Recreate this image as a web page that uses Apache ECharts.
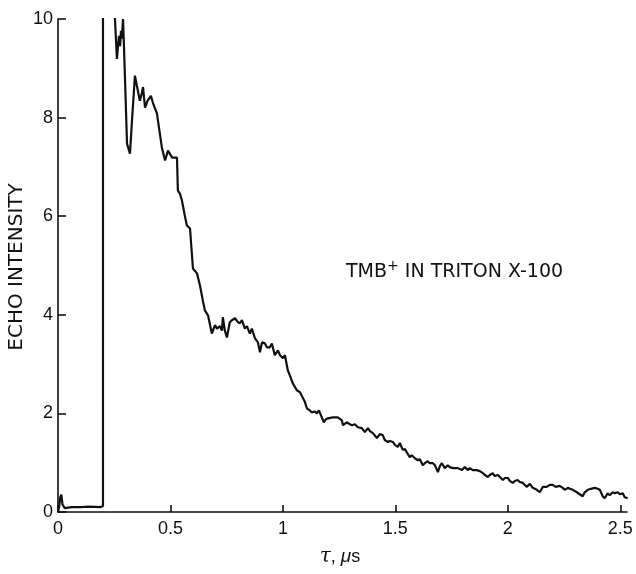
<!DOCTYPE html>
<html>
<head>
<meta charset="utf-8">
<script src="https://cdn.jsdelivr.net/npm/echarts@6/dist/echarts.min.js"></script>
<style>
  html, body { margin: 0; padding: 0; background: #fff; }
  #chart { width: 636px; height: 574px; }
</style>
</head>
<body>
<div id="chart"></div>
<script>
// Spin-echo decay trace: echo intensity versus pulse spacing tau (microseconds)
const tau = [
  0, 0.005, 0.01, 0.015, 0.02, 0.03, 0.06, 0.1, 0.14, 0.19, 0.2, 0.2, 0.25,
  0.253, 0.262, 0.271, 0.276, 0.28, 0.284, 0.289, 0.293, 0.307, 0.32, 0.329, 0.342,
  0.351, 0.364, 0.373, 0.378, 0.387, 0.398, 0.413, 0.422, 0.44, 0.453, 0.462, 0.476,
  0.489, 0.507, 0.529, 0.533, 0.542, 0.551, 0.564, 0.573, 0.587, 0.6, 0.618, 0.631,
  0.644, 0.653, 0.667, 0.684, 0.698, 0.707, 0.72, 0.729, 0.733, 0.742, 0.751, 0.764,
  0.773, 0.787, 0.8, 0.809, 0.818, 0.831, 0.84, 0.853, 0.862, 0.876, 0.889, 0.898,
  0.907, 0.92, 0.929, 0.942, 0.951, 0.964, 0.978, 0.987, 1.0, 1.009, 1.022, 1.031,
  1.044, 1.062, 1.076, 1.089, 1.098, 1.107, 1.12, 1.129, 1.142, 1.151, 1.16, 1.173,
  1.182, 1.191, 1.2, 1.222, 1.244, 1.262, 1.267, 1.284, 1.298, 1.307, 1.32, 1.333,
  1.351, 1.364, 1.378, 1.387, 1.4, 1.418, 1.431, 1.444, 1.453, 1.467, 1.476, 1.489,
  1.498, 1.511, 1.52, 1.533, 1.542, 1.551, 1.564, 1.573, 1.587, 1.6, 1.609, 1.622,
  1.631, 1.644, 1.653, 1.667, 1.676, 1.689, 1.698, 1.707, 1.72, 1.733, 1.742, 1.756,
  1.764, 1.778, 1.796, 1.809, 1.822, 1.831, 1.844, 1.862, 1.876, 1.889, 1.898, 1.911,
  1.92, 1.933, 1.942, 1.956, 1.964, 1.978, 1.987, 2.0, 2.009, 2.022, 2.031, 2.044,
  2.053, 2.067, 2.084, 2.098, 2.111, 2.129, 2.142, 2.156, 2.173, 2.187, 2.2, 2.213,
  2.231, 2.244, 2.253, 2.267, 2.276, 2.289, 2.307, 2.32, 2.333, 2.342, 2.356, 2.369,
  2.387, 2.4, 2.409, 2.422, 2.431, 2.444, 2.453, 2.467, 2.476, 2.489, 2.498, 2.511,
  2.52, 2.533
];
const intensity = [
  0, 0.1, 0.3, 0.35, 0.15, 0.08, 0.1, 0.1, 0.11, 0.1, 0.12, 13, 13,
  10.02, 9.19, 9.66, 9.45, 9.76, 9.6, 10.0, 9.49, 7.47, 7.27, 7.94, 8.85,
  8.64, 8.34, 8.5, 8.62, 8.2, 8.34, 8.44, 8.3, 8.08, 7.67, 7.39, 7.13,
  7.33, 7.19, 7.19, 6.52, 6.46, 6.32, 6.01, 5.81, 5.75, 4.94, 4.84, 4.6,
  4.29, 4.09, 3.99, 3.62, 3.79, 3.72, 3.77, 3.68, 3.95, 3.68, 3.54, 3.85,
  3.89, 3.93, 3.85, 3.83, 3.89, 3.72, 3.77, 3.62, 3.72, 3.52, 3.44, 3.24,
  3.44, 3.42, 3.34, 3.34, 3.42, 3.18, 3.28, 3.18, 3.12, 3.18, 2.87, 2.77,
  2.61, 2.47, 2.43, 2.31, 2.23, 2.1, 2.06, 2.02, 2.04, 2.0, 2.06, 1.92,
  1.82, 1.88, 1.9, 1.92, 1.92, 1.86, 1.76, 1.82, 1.78, 1.76, 1.78, 1.72,
  1.7, 1.62, 1.7, 1.64, 1.6, 1.5, 1.58, 1.56, 1.46, 1.42, 1.44, 1.42,
  1.36, 1.32, 1.4, 1.26, 1.28, 1.21, 1.11, 1.15, 1.09, 1.05, 1.07, 0.95,
  0.99, 1.03, 0.99, 0.99, 0.95, 0.81, 0.93, 0.99, 0.89, 0.95, 0.91, 0.89,
  0.93, 0.89, 0.85, 0.91, 0.85, 0.89, 0.85, 0.85, 0.83, 0.79, 0.75, 0.71,
  0.75, 0.79, 0.73, 0.75, 0.71, 0.65, 0.69, 0.69, 0.63, 0.59, 0.63, 0.65,
  0.61, 0.59, 0.51, 0.57, 0.49, 0.45, 0.4, 0.51, 0.51, 0.55, 0.55, 0.51,
  0.53, 0.49, 0.45, 0.49, 0.47, 0.45, 0.4, 0.36, 0.32, 0.4, 0.45, 0.47,
  0.49, 0.47, 0.45, 0.32, 0.28, 0.38, 0.34, 0.4, 0.38, 0.4, 0.36, 0.38,
  0.3, 0.28
];
const xTicks = [0, 0.5, 1, 1.5, 2, 2.5];
const yTicks = [0, 2, 4, 6, 8, 10];

const FONT = '"Liberation Sans", "DejaVu Sans", sans-serif';
const TITLE_FONT = '"DejaVu Sans", "Liberation Sans", sans-serif';
const INK = '#111';

const chart = echarts.init(document.getElementById('chart'), null, { renderer: 'canvas' });

chart.setOption({
  animation: false,
  backgroundColor: '#fff',
  grid: { left: 58, right: 9, top: 19, bottom: 62, containLabel: false },
  xAxis: {
    type: 'value',
    min: 0,
    max: 2.53,
    splitLine: { show: false },
    axisLine: { show: true, lineStyle: { color: INK, width: 1.6 } },
    axisTick: {
      show: true, inside: true, length: 7,
      customValues: xTicks,
      lineStyle: { color: INK, width: 1.6 }
    },
    axisLabel: {
      customValues: xTicks,
      color: INK, fontFamily: FONT, fontSize: 18, margin: 8
    }
  },
  yAxis: {
    type: 'value',
    min: 0,
    max: 10,
    interval: 2,
    splitLine: { show: false },
    axisLine: { show: true, lineStyle: { color: INK, width: 1.6 } },
    axisTick: {
      show: true, inside: true, length: 8,
      customValues: yTicks,
      lineStyle: { color: INK, width: 1.6 }
    },
    axisLabel: {
      customValues: yTicks,
      color: INK, fontFamily: FONT, fontSize: 18, margin: 5
    }
  },
  series: [{
    type: 'line',
    data: tau.map((t, i) => [t, intensity[i]]),
    showSymbol: false,
    clip: true,
    lineStyle: { color: INK, width: 2.2 },
    z: 3
  }],
  graphic: [
    {
      // vertical axis title, reading bottom to top
      type: 'text',
      x: 17, y: 267,
      rotation: Math.PI / 2,
      style: {
        text: 'ECHO INTENSITY',
        fill: INK, font: '20px ' + TITLE_FONT,
        align: 'center', verticalAlign: 'middle'
      }
    },
    {
      type: 'text',
      x: 340, y: 557,
      style: {
        text: '{t|τ}, {m|μ}s',
        fill: INK, font: '18px ' + FONT,
        align: 'center', verticalAlign: 'middle',
        rich: {
          t: { fontStyle: 'italic', fontSize: 20, fontFamily: '"DejaVu Serif", serif', fill: INK },
          m: { fontStyle: 'italic', fontSize: 19, fontFamily: FONT, fill: INK }
        }
      }
    },
    {
      type: 'text',
      x: 346, y: 272,
      style: {
        text: 'TMB{sup|+} IN TRITON X-100',
        fill: INK, font: '19px ' + TITLE_FONT,
        align: 'left', verticalAlign: 'middle',
        rich: {
          sup: { fontSize: 14, fontFamily: TITLE_FONT, fill: INK, padding: [0, 0, 12, 0] }
        }
      }
    }
  ]
});
</script>
</body>
</html>
